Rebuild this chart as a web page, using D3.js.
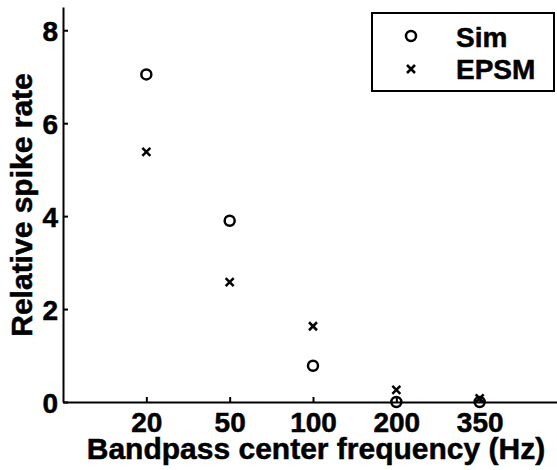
<!DOCTYPE html>
<html>
<head>
<meta charset="utf-8">
<script src="https://cdn.jsdelivr.net/npm/d3@7"></script>
<style>
  body { margin: 0; background: #fff; }
  svg { display: block; font-family: "Liberation Sans", Arial, sans-serif; font-weight: bold; }
  text { fill: #000; stroke: #000; stroke-width: 0.5px; }
</style>
</head>
<body>
<svg id="chart" width="557" height="470"></svg>
<script>
// bandpass center frequencies (Hz)
const categories = ["20", "50", "100", "200", "350"];
const simValues = [7.05, 3.9, 0.78, 0.0, 0.0];
const epsmValues = [5.38, 2.58, 1.63, 0.26, 0.08];
const yTicks = [0, 2, 4, 6, 8];
const legendLabels = ["Sim", "EPSM"];

const svg = d3.select("#chart");
const left = 63, bottom = 402;

const x = d3.scaleLinear().domain([0, 6]).range([left, 563]);
const y = d3.scaleLinear().domain([0, 8.5]).range([bottom, 7]);

drawAxes();
drawPoints();
drawLegend();

function drawAxes() {
  const xAxis = svg.append("g")
    .attr("transform", "translate(0," + bottom + ")")
    .call(d3.axisBottom(x)
      .tickValues(categories.map((d, i) => i + 1))
      .tickFormat((d, i) => categories[i])
      .tickSizeInner(-5)
      .tickSizeOuter(0)
      .tickPadding(10));

  const yAxis = svg.append("g")
    .attr("transform", "translate(" + left + ",0)")
    .call(d3.axisLeft(y)
      .tickValues(yTicks)
      .tickSizeInner(-5)
      .tickSizeOuter(0)
      .tickPadding(5));

  [xAxis, yAxis].forEach(g => {
    g.select(".domain").attr("stroke", "#000").attr("stroke-width", 2);
    g.selectAll(".tick line").attr("stroke", "#000").attr("stroke-width", 2);
    g.selectAll(".tick text")
      .attr("fill", "#000")
      .attr("font-size", "28px")
      .attr("font-weight", "bold")
      .attr("font-family", "'Liberation Sans', Arial, sans-serif");
  });
  xAxis.selectAll(".tick text").attr("dy", "0.71em");
  yAxis.selectAll(".tick text").attr("dy", "0.36em");

  // x label
  svg.append("text")
    .attr("x", 316)
    .attr("y", 459)
    .attr("text-anchor", "middle")
    .attr("font-size", "30px")
    .text("Bandpass center frequency (Hz)");

  // y label
  svg.append("text")
    .attr("transform", "translate(32,205) rotate(-90)")
    .attr("text-anchor", "middle")
    .attr("font-size", "30px")
    .text("Relative spike rate");
}

function crossPath(cx, cy, r) {
  return "M" + (cx - r) + "," + (cy - r) + "L" + (cx + r) + "," + (cy + r) +
    "M" + (cx - r) + "," + (cy + r) + "L" + (cx + r) + "," + (cy - r);
}

function circleMark(g, cx, cy) {
  g.append("circle")
    .attr("cx", cx)
    .attr("cy", cy)
    .attr("r", 5)
    .attr("fill", "none")
    .attr("stroke", "#000")
    .attr("stroke-width", 2.5);
}

function crossMark(g, cx, cy) {
  g.append("path")
    .attr("d", crossPath(cx, cy, 4))
    .attr("fill", "none")
    .attr("stroke", "#000")
    .attr("stroke-width", 2.5);
}

function drawPoints() {
  const g = svg.append("g");
  simValues.forEach((v, i) => circleMark(g, x(i + 1), y(v)));
  epsmValues.forEach((v, i) => crossMark(g, x(i + 1), y(v)));
}

function drawLegend() {
  const g = svg.append("g");
  g.append("rect")
    .attr("x", 372)
    .attr("y", 13)
    .attr("width", 182)
    .attr("height", 78)
    .attr("fill", "#fff")
    .attr("stroke", "#000")
    .attr("stroke-width", 2);

  circleMark(g, 411, 36);
  crossMark(g, 411, 69);

  g.append("text").attr("x", 456).attr("y", 47).attr("font-size", "28px").text(legendLabels[0]);
  g.append("text").attr("x", 456).attr("y", 79).attr("font-size", "28px").text(legendLabels[1]);
}
</script>
</body>
</html>
